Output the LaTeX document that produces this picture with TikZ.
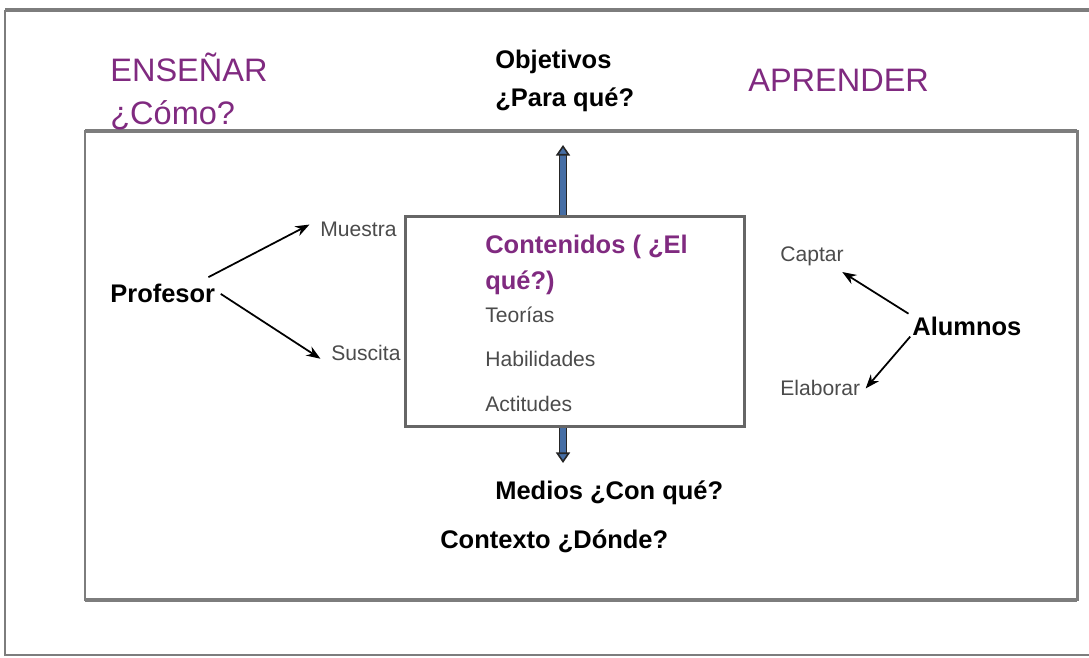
\documentclass[tikz,border=0pt]{standalone}
\usepackage{fontspec}
\setmainfont{Liberation Sans}
\usetikzlibrary{positioning, arrows.meta}
\definecolor{lila}{RGB}{128,42,128}
\definecolor{marco}{RGB}{125,125,125}
\definecolor{texto}{RGB}{75,75,75}
\definecolor{flecha}{RGB}{70,110,165}

\begin{document}
\begin{tikzpicture}[x=0.02cm, y=-0.02cm,
  titulo/.style={lila, font=\fontsize{18.5}{24}\selectfont, anchor=base west, inner sep=0pt},
  negrita/.style={font=\bfseries\fontsize{14.5}{20}\selectfont, anchor=base west, inner sep=0pt},
  gris/.style={texto, font=\fontsize{12}{14}\selectfont, anchor=base west, inner sep=0pt},
  flechita/.style={-{Stealth[length=8pt, width=6pt]}, line width=1pt},
  tubo/.style={double=flecha, double distance=3pt, line width=0.9pt, draw=black!85,
    -{Triangle[length=6pt, width=8pt, fill=flecha]}}]
\useasboundingbox (0,0) rectangle (1089,658);
% marcos
\draw[marco, line width=1pt] (1089,655) -- (5,655) -- (5,10);
\draw[marco, line width=2.4pt] (5,10) -- (1089,10);
\draw[marco, line width=1.7pt] (85,131) rectangle (1077,600);
\draw[marco, line width=2.8pt] (85,131) -- (1077,131);
\draw[marco, line width=2.8pt] (85,600) -- (1077,600);

% titulos
\node[titulo] (ensenar) at (110,82) {ENSEÑAR};
\node[titulo] (como) at (110,125) {¿Cómo?};
\node[titulo] (aprender) at (748,92) {APRENDER};
\node[negrita] (objetivos) at (495,69) {Objetivos};
\node[negrita] (paraque) at (495,107) {¿Para qué?};

% contenidos
\node[draw=black!60, line width=1.7pt, minimum width=6.8cm, minimum height=4.22cm]
  (caja) at (575,321.5) {};
\node[negrita, lila] (contenidos) at (485,254) {Contenidos ( ¿El};
\node[negrita, lila] (elque) at (485,290) {qué?)};
\node[gris] (teorias) at (485,323) {Teorías};
\node[gris] (habilidades) at (485,367) {Habilidades};
\node[gris] (actitudes) at (485,412) {Actitudes};

% profesor
\node[negrita] (profesor) at (110,303) {Profesor};
\node[gris] (muestra) at (320,237) {Muestra};
\node[gris] (suscita) at (331,361) {Suscita};
\draw[flechita] ([xshift=-4pt, yshift=4pt]profesor.north east) -- ([xshift=-6pt, yshift=3pt]muestra.west);
\draw[flechita] ([xshift=3pt]profesor.east) -- ([xshift=-6pt, yshift=-3pt]suscita.west);

% alumnos
\node[negrita] (alumnos) at (912,336) {Alumnos};
\node[gris] (captar) at (780,262) {Captar};
\node[gris] (elaborar) at (780,396) {Elaborar};
\draw[flechita] ([xshift=-2pt, yshift=2pt]alumnos.north west) -- ([xshift=-1pt, yshift=-3pt]captar.south east);
\draw[flechita] ([xshift=-1pt]alumnos.south west) -- ([xshift=3pt]elaborar.east);

% medios y contexto
\node[negrita] (medios) at (495,500) {Medios ¿Con qué?};
\node[negrita] (contexto) at (440,548) {Contexto ¿Dónde?};
\coordinate (arriba) at (563,145);
\coordinate (abajo) at (563,463);
\draw[tubo] (caja.north -| arriba) -- (arriba);
\draw[tubo] (caja.south -| abajo) -- (abajo);
\end{tikzpicture}
\end{document}
